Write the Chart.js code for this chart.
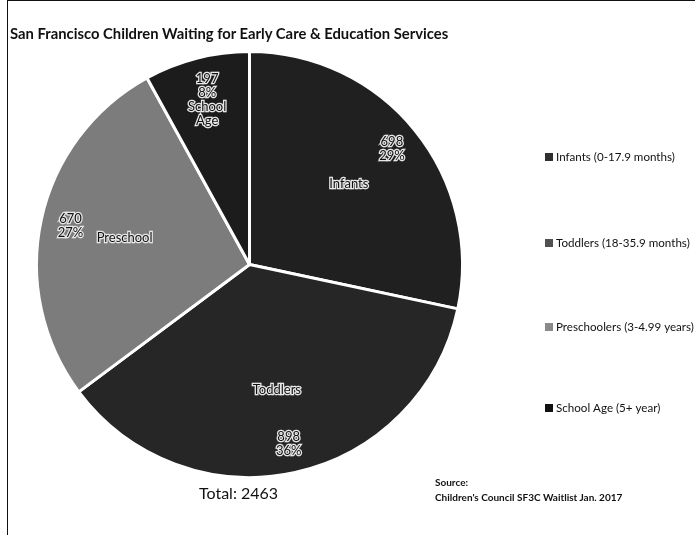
<!DOCTYPE html>
<html>
<head>
<meta charset="utf-8">
<script src="https://cdn.jsdelivr.net/npm/chart.js@4"></script>
<style>
  html, body { margin: 0; padding: 0; background: #fff; }
  #wrap { position: relative; height: 535px; box-sizing: border-box; width: 688px; margin-left: 7px;
          border-left: 1.5px solid #111; border-top: 1.5px solid #111; }
  canvas { position: absolute; left: 0; top: 0; }
  .txt { position: absolute; font-family: Lato, "Open Sans", sans-serif; color: #111; white-space: nowrap; }
</style>
</head>
<body>
<div id="wrap">
  <canvas id="pie-chart" width="686" height="533"></canvas>
  <div class="txt" style="left:2px; top:23px; font-size:14.8px; font-weight:bold;">San Francisco Children Waiting for Early Care &amp; Education Services</div>
  <div class="txt" style="left:191px; top:482px; font-size:16px;">Total: 2463</div>
  <div class="txt" style="left:427px; top:474px; font-size:10px; font-weight:bold; line-height:15px;">Source:<br>Children's Council SF3C Waitlist Jan. 2017</div>
</div>
<script>
// values
const legend_labels = ['Infants (0-17.9 months)', 'Toddlers (18-35.9 months)', 'Preschoolers (3-4.99 years)', 'School Age (5+ year)'];
const slice_names = ['Infants', 'Toddlers', 'Preschool', 'School Age'];
const counts = [698, 898, 670, 197];
const pct_labels = ['29%', '36%', '27%', '8%'];
const slice_colors = ['#202020', '#262626', '#7c7c7c', '#1c1c1c'];
const marker_colors = ['#303030', '#505050', '#8a8a8a', '#111111'];

// draws the value / percent / name labels inside each slice
const slice_labels = {
    id: 'slice_labels',
    afterDatasetsDraw(chart) {
        const ctx = chart.ctx;
        const arcs = chart.getDatasetMeta(0).data;
        ctx.save();
        ctx.font = '13px Lato, sans-serif';
        ctx.textAlign = 'center';
        ctx.textBaseline = 'middle';
        ctx.lineWidth = 2.5;
        ctx.strokeStyle = '#e8e8e8';
        ctx.fillStyle = '#111';
        arcs.forEach((arc, i) => {
            const p = arc.getProps(['x', 'y', 'startAngle', 'endAngle', 'outerRadius']);
            const mid = (p.startAngle + p.endAngle) / 2;
            const txt = (s, r, dy) => {
                const x = p.x + Math.cos(mid) * p.outerRadius * r;
                const y = p.y + Math.sin(mid) * p.outerRadius * r + dy;
                ctx.strokeText(s, x, y);
                ctx.fillText(s, x, y);
            };
            if (p.endAngle - p.startAngle < 0.6) {
                const lines = [String(counts[i]), pct_labels[i]].concat(slice_names[i].split(' '));
                lines.forEach((s, k) => txt(s, 0.8, (k - 1.5) * 14));
            } else {
                txt(String(counts[i]), 0.86, -7);
                txt(pct_labels[i], 0.86, 7);
                txt(slice_names[i], 0.6, 0);
            }
        });
        ctx.restore();
    }
};

// legend spread down the right side, like the Excel original
const side_legend = {
    id: 'side_legend',
    afterDraw(chart, args, opts) {
        const ctx = chart.ctx;
        ctx.save();
        ctx.font = '11.6px Lato, sans-serif';
        ctx.textBaseline = 'middle';
        let y = opts.top;
        chart.data.labels.forEach((label, i) => {
            y += opts.step[i];
            ctx.fillStyle = marker_colors[i];
            ctx.fillRect(opts.left, y - 4, 8, 8);
            ctx.fillStyle = '#111';
            ctx.fillText(label, opts.left + 11, y);
        });
        ctx.restore();
    }
};

const pie_config = {
    type: 'pie',
    data: {
        labels: legend_labels,
        datasets: [{
            data: counts,
            backgroundColor: slice_colors,
            borderColor: '#ffffff',
            borderWidth: 3,
        }]
    },
    options: {
        responsive: false,
        animation: false,
        layout: {
            padding: { left: 27, right: 230, top: 48, bottom: 54 }
        },
        plugins: {
            legend: { display: false },
            tooltip: { enabled: false },
            side_legend: { left: 537, top: 156, step: [0, 86, 84, 81] }
        }
    },
    plugins: [slice_labels, side_legend]
};

const pie_ctx = document.getElementById('pie-chart').getContext('2d');
const pie_chart = new Chart(pie_ctx, pie_config);
</script>
</body>
</html>
